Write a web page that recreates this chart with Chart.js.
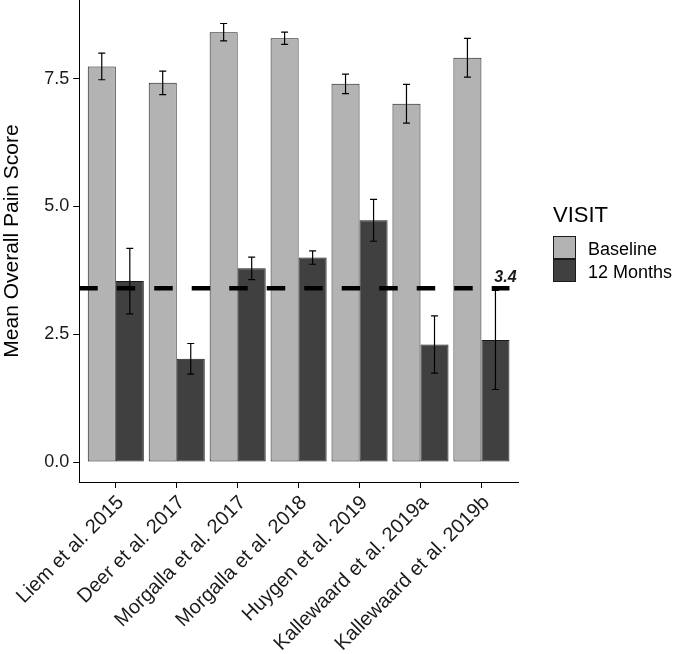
<!DOCTYPE html>
<html>
<head>
<meta charset="utf-8">
<script src="https://cdn.jsdelivr.net/npm/chart.js@4.4.1/dist/chart.umd.min.js"></script>
<style>
  body { margin: 0; background: #fff; }
</style>
</head>
<body>
<canvas id="myChart" width="677" height="654"></canvas>
<script>
var studies = ['Liem et al. 2015', 'Deer et al. 2017', 'Morgalla et al. 2017', 'Morgalla et al. 2018',
    'Huygen et al. 2019', 'Kallewaard et al. 2019a', 'Kallewaard et al. 2019b'];
var baseline = [7.74, 7.42, 8.41, 8.29, 7.40, 7.01, 7.91];
var baselineErr = [0.26, 0.23, 0.17, 0.12, 0.19, 0.38, 0.38];
var months12 = [3.54, 2.02, 3.79, 4.00, 4.73, 2.30, 2.39];
var months12Err = [0.64, 0.30, 0.22, 0.13, 0.41, 0.56, 0.97];
var yTicks = [0, 2.5, 5, 7.5];
var mcid = 3.4;

var font = '"Liberation Sans", Arial, sans-serif';

function points(values) {
    return values.map(function (v, i) { return { x: i, y: v }; });
}

// error bars, then the dashed 3.4 line on top
var errorBars = {
    id: 'errorBars',
    afterDatasetsDraw: function (chart) {
        var ctx = chart.ctx;
        var y = chart.scales.y;
        ctx.save();
        ctx.strokeStyle = '#000';
        ctx.lineWidth = 1.2;
        [baselineErr, months12Err].forEach(function (errs, d) {
            var vals = d === 0 ? baseline : months12;
            chart.getDatasetMeta(d).data.forEach(function (bar, i) {
                var top = y.getPixelForValue(vals[i] + errs[i]);
                var bot = y.getPixelForValue(vals[i] - errs[i]);
                ctx.beginPath();
                ctx.moveTo(bar.x, top); ctx.lineTo(bar.x, bot);
                ctx.moveTo(bar.x - 3.5, top); ctx.lineTo(bar.x + 3.5, top);
                ctx.moveTo(bar.x - 3.5, bot); ctx.lineTo(bar.x + 3.5, bot);
                ctx.stroke();
            });
        });

        var meta = chart.getDatasetMeta(1);
        var last = meta.data[meta.data.length - 1];
        var xEnd = last.x + last.width / 2;
        var yLine = y.getPixelForValue(mcid);
        ctx.lineWidth = 4.5;
        ctx.setLineDash([18.5, 19]);
        ctx.beginPath();
        ctx.moveTo(chart.chartArea.left, yLine);
        ctx.lineTo(xEnd, yLine);
        ctx.stroke();
        ctx.setLineDash([]);
        ctx.fillStyle = '#1a1a1a';
        ctx.font = 'italic bold 16px ' + font;
        ctx.textAlign = 'center';
        ctx.textBaseline = 'alphabetic';
        ctx.fillText(mcid.toFixed(1), xEnd - 4, yLine - 6);
        ctx.restore();
    }
};

// ggplot style legend to the right of the panel
var visitLegend = {
    id: 'visitLegend',
    afterDraw: function (chart) {
        var ctx = chart.ctx;
        var area = chart.chartArea;
        var x = area.right + 35;
        var mid = (area.top + area.bottom) / 2;
        ctx.save();
        ctx.fillStyle = '#000';
        ctx.font = '22px ' + font;
        ctx.textBaseline = 'alphabetic';
        ctx.fillText('VISIT', x, mid - 19);
        chart.data.datasets.forEach(function (ds, i) {
            var top = mid - 5 + i * 23;
            ctx.fillStyle = ds.backgroundColor;
            ctx.fillRect(x, top, 23, 23);
            ctx.strokeStyle = '#1a1a1a';
            ctx.lineWidth = 1;
            ctx.strokeRect(x + 0.5, top + 0.5, 22, 22);
            ctx.fillStyle = '#000';
            ctx.font = '18px ' + font;
            ctx.fillText(ds.label, x + 35, top + 18.5);
        });
        ctx.restore();
    }
};

var ctx = document.getElementById('myChart').getContext('2d');
var myChart = new Chart(ctx, {
    type: 'bar',
    data: {
        datasets: [{
            label: 'Baseline',
            data: points(baseline),
            backgroundColor: '#b3b3b3',
            borderColor: '#1a1a1a',
            borderWidth: 1,
            borderSkipped: false
        }, {
            label: '12 Months',
            data: points(months12),
            backgroundColor: '#404040',
            borderColor: '#1a1a1a',
            borderWidth: 1,
            borderSkipped: false
        }]
    },
    options: {
        responsive: false,
        animation: false,
        layout: {
            padding: { left: 0, right: 159, top: 0, bottom: 0 }
        },
        datasets: {
            bar: { categoryPercentage: 0.92, barPercentage: 1 }
        },
        plugins: {
            legend: { display: false },
            tooltip: { enabled: false }
        },
        scales: {
            x: {
                type: 'linear',
                offset: false,
                min: -0.6,
                max: studies.length - 0.4,
                afterBuildTicks: function (scale) {
                    scale.min = -0.6;
                    scale.max = studies.length - 0.4;
                    scale.ticks = studies.map(function (s, i) { return { value: i }; });
                },
                afterFit: function (scale) {
                    scale.height = 172;
                },
                grid: { offset: false, drawOnChartArea: false, drawTicks: true, tickLength: 6, color: '#000' },
                border: { display: true, color: '#000', width: 1 },
                ticks: {
                    autoSkip: false,
                    minRotation: 45,
                    maxRotation: 45,
                    padding: 3,
                    labelOffset: 5,
                    color: '#1a1a1a',
                    font: { family: font, size: 20 },
                    callback: function (value) { return studies[value]; }
                }
            },
            y: {
                min: -0.39,
                max: 9.04,
                afterBuildTicks: function (scale) {
                    scale.ticks = yTicks.map(function (v) { return { value: v }; });
                },
                afterFit: function (scale) {
                    scale.paddingTop = 0;
                    scale.paddingBottom = 0;
                },
                grid: { drawOnChartArea: false, drawTicks: true, tickLength: 6, color: '#000' },
                border: { display: true, color: '#000', width: 1 },
                ticks: {
                    padding: 4,
                    color: '#1a1a1a',
                    font: { family: font, size: 18 },
                    callback: function (value) { return value.toFixed(1); }
                },
                title: {
                    display: true,
                    text: 'Mean Overall Pain Score',
                    color: '#000',
                    font: { family: font, size: 21 },
                    padding: { top: 0, bottom: 15 }
                }
            }
        }
    },
    plugins: [errorBars, visitLegend]
});
</script>
</body>
</html>
